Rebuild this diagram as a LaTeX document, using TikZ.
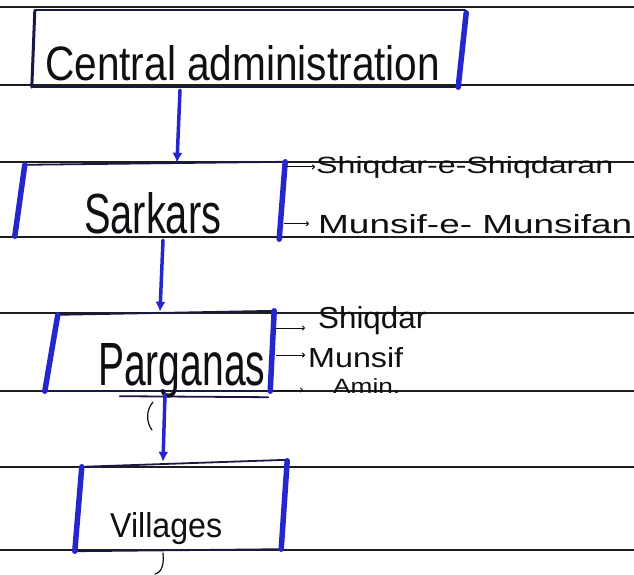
\documentclass[tikz,border=0pt]{standalone}
\usepackage{fontspec}
\usepackage{graphicx}
\newfontfamily\handfont{Liberation Sans}
\usetikzlibrary{arrows.meta}
\definecolor{mblue}{RGB}{38,38,205}
\definecolor{navy}{RGB}{25,25,70}
\definecolor{rulecol}{RGB}{30,30,30}
\definecolor{ink}{RGB}{15,15,20}
\tikzset{
  ruled/.style={draw=rulecol, line width=1.6pt},
  thinedge/.style={draw=navy, line width=1.8pt, line cap=round},
  bside/.style={draw=mblue, line width=5.5pt, line cap=round},
  conn/.style={draw=mblue, line width=3.5pt, line cap=round, -{Latex[length=10pt,width=10pt]}},
  sarrow/.style={draw=ink, line width=1pt, -{To[length=3pt,width=5pt]}},
  htext/.style={anchor=base west, inner sep=0pt, text=ink, font=\handfont},
  boxnode/.style={draw=none, inner sep=0pt, rectangle},
  stray/.style={draw=ink, line width=1.2pt, line cap=round}
}
\begin{document}
\begin{tikzpicture}[x=1pt,y=-1pt]
\useasboundingbox[fill=white] (0,0) rectangle (634,574);
% ruled paper lines
\foreach \yy in {7,85,162,237,313,391,467,550}
  \draw[ruled] (0,\yy) -- (634,\yy);

% boxes (frames)
\node[boxnode, minimum width=429pt, minimum height=77pt] (cen) at (247.5,48.5) {};
\node[boxnode, minimum width=263pt, minimum height=75pt] (sark) at (151.5,200.5) {};
\node[boxnode, minimum width=228pt, minimum height=79pt] (parg) at (159,351.5) {};
\node[boxnode, minimum width=212pt, minimum height=89pt] (vill) at (181,506.5) {};

% Central administration frame
\draw[thinedge] ([xshift=2pt]cen.north west) -- ([xshift=3pt]cen.north east);
\draw[thinedge] (cen.south west) -- ([xshift=-4pt]cen.south east);
\draw[draw=navy, line width=3pt, line cap=round] ([xshift=2pt,yshift=-1pt]cen.north west) -- ([xshift=-1pt]cen.south west);
\draw[bside] ([xshift=4pt,yshift=-3pt]cen.north east) -- ([xshift=-4pt]cen.south east);

% Sarkars frame
\draw[thinedge] ([xshift=5pt,yshift=-2pt]sark.north west) -- ([xshift=2pt,yshift=1pt]sark.north east);
\draw[bside] ([xshift=5pt,yshift=-2pt]sark.north west) -- ([xshift=-5pt,yshift=2pt]sark.south west);
\draw[bside] ([xshift=2pt,yshift=1pt]sark.north east) -- ([xshift=-4pt,yshift=-1pt]sark.south east);

% Parganas frame
\draw[thinedge] ([xshift=13pt,yshift=-3pt]parg.north west) -- ([xshift=2pt,yshift=1pt]parg.north east);
\draw[thinedge] (parg.south west) -- ([xshift=-3pt]parg.south east);
\draw[thinedge] ([xshift=75pt,yshift=-5pt]parg.south west) -- ([xshift=-5pt,yshift=-6pt]parg.south east);
\draw[bside] ([xshift=13pt,yshift=-3pt]parg.north west) -- (parg.south west);
\draw[bside] ([xshift=1pt,yshift=1pt]parg.north east) -- ([xshift=-3pt]parg.south east);

% Villages frame
\draw[thinedge] ([xshift=7pt,yshift=-5pt]vill.north west) -- ([yshift=2pt]vill.north east);
\draw[thinedge] (vill.south west) -- ([xshift=-6pt,yshift=2pt]vill.south east);
\draw[bside] ([xshift=7pt,yshift=-5pt]vill.north west) -- (vill.south west);
\draw[bside] ([yshift=1pt]vill.north east) -- ([xshift=-6pt,yshift=2pt]vill.south east);

% box texts
\node[htext] (tcen) at (45,80) {\resizebox{395pt}{35pt}{Central administration}};
\node[htext] (tsark) at (84,233) {\resizebox{137pt}{41pt}{Sarkars}};
\node[htext] (tparg) at (98,385) {\resizebox{167pt}{42pt}{Parganas}};
\node[htext] (tvill) at (110,537) {\resizebox{112pt}{25pt}{Villages}};

% side texts
\node[htext] (shq1) at (316,173) {\resizebox{297pt}{17pt}{Shiqdar-e-Shiqdaran}};
\node[htext] (mun1) at (318,233) {\resizebox{314pt}{19pt}{Munsif-e- Munsifan}};
\node[htext] (shq2) at (318,328) {\resizebox{108pt}{22pt}{Shiqdar}};
\node[htext] (mun2) at (308,367) {\resizebox{95pt}{20pt}{Munsif}};
\node[htext] (amin) at (333,393) {\resizebox{67pt}{15pt}{Amin.}};

% main connectors
\draw[conn] ([xshift=-67.5pt,yshift=-3pt]cen.south) -- ([xshift=25.5pt]sark.north);
\draw[conn] ([xshift=11.5pt,yshift=-2pt]sark.south) -- ([xshift=1pt]parg.north);
\draw[conn] ([xshift=6pt,yshift=-3pt]parg.south) -- ([xshift=-18pt]vill.north);

% side arrows
\draw[sarrow, shorten >=1pt] ([xshift=3pt]sark.east |- shq1.west) -- (shq1.west);
\draw[sarrow, shorten >=9pt] ([xshift=1pt]sark.east |- mun1.west) -- (mun1.west);
\draw[sarrow, shorten >=13pt] ([xshift=3pt]parg.east |- shq2.base) -- (shq2.base west);
\draw[sarrow, shorten >=3pt] ([xshift=3pt,yshift=2pt]parg.east |- mun2.west) -- ([yshift=2pt]mun2.west);
\draw[sarrow, shorten >=30pt] ([xshift=1pt,yshift=3pt]parg.east |- amin.base) -- ([yshift=3pt]amin.base west);

% stray pen marks
\draw[stray] (153,402) .. controls (146,410) and (146,422) .. (152,430);
\draw[stray] (163,553) .. controls (164,565) and (162,572) .. (155,574);
\end{tikzpicture}
\end{document}
